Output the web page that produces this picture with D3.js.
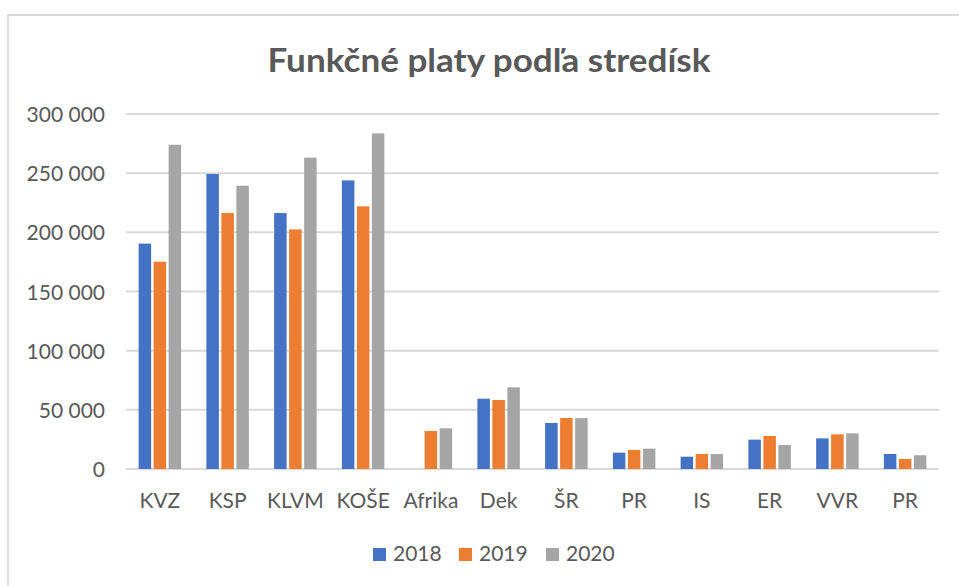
<!DOCTYPE html>
<html>
<head>
<meta charset="utf-8">
<script src="https://cdn.jsdelivr.net/npm/d3@7"></script>
<style>
    html, body { margin: 0; padding: 0; background: #fff; }
    svg { display: block; font-family: Lato, "Open Sans", sans-serif; }
</style>
</head>
<body>
<svg id="chart" width="959" height="586"></svg>
<script>
// data
let categories = ['KVZ', 'KSP', 'KLVM', 'KOŠE', 'Afrika', 'Dek', 'ŠR', 'PR', 'IS', 'ER', 'VVR', 'PR'];
let years = ['2018', '2019', '2020'];
let values2018 = [190500, 249300, 216300, 243900, 0, 59400, 38900, 13800, 10400, 24800, 25900, 12700];
let values2019 = [175200, 216300, 202500, 222000, 32100, 58300, 43100, 16100, 12700, 27900, 29300, 8500];
let values2020 = [274000, 239400, 263100, 283600, 34400, 69000, 43000, 17200, 12700, 20300, 30100, 11600];
let yTicks = [0, 50000, 100000, 150000, 200000, 250000, 300000];
let colors = ['#4472C4', '#ED7D31', '#A5A5A5'];

let series = [values2018, values2019, values2020];
let textColor = '#595959';
let gridColor = '#d9d9d9';

let svg = d3.select('#chart');

// outer frame of the chart area (runs off the bottom / right of the picture)
svg.append('rect')
    .attr('x', 8)
    .attr('y', 15)
    .attr('width', 1000)
    .attr('height', 1000)
    .attr('fill', 'none')
    .attr('stroke', gridColor)
    .attr('stroke-width', 2);

svg.append('text')
    .attr('x', 489)
    .attr('y', 72)
    .attr('text-anchor', 'middle')
    .attr('font-size', 33)
    .attr('font-weight', 'bold')
    .attr('fill', textColor)
    .attr('textLength', 443)
    .attr('lengthAdjust', 'spacingAndGlyphs')
    .text('Funkčné platy podľa stredísk');

let x = d3.scaleBand()
    .domain(d3.range(categories.length))
    .range([126, 939]);

let groupWidth = 45;
let xInner = d3.scaleBand()
    .domain(d3.range(years.length))
    .range([0, groupWidth]);

let y = d3.scaleLinear()
    .domain([0, 300000])
    .range([469, 114]);

let fmt = v => d3.format(',')(v).replace(/,/g, ' ');

// gridlines
svg.append('g')
    .selectAll('line')
    .data(yTicks)
    .join('line')
    .attr('x1', 126)
    .attr('x2', 939)
    .attr('y1', d => y(d))
    .attr('y2', d => y(d))
    .attr('stroke', gridColor)
    .attr('stroke-width', 2);

// y axis labels
let yAxis = svg.append('g')
    .attr('transform', 'translate(105,0)')
    .call(d3.axisLeft(y).tickValues(yTicks).tickFormat(fmt).tickSize(0).tickPadding(0));
yAxis.select('.domain').remove();
yAxis.selectAll('text')
    .attr('font-family', 'Lato, "Open Sans", sans-serif')
    .attr('font-size', 21)
    .attr('fill', textColor)
    .attr('dy', '0.36em');

// bars
let groups = svg.append('g')
    .selectAll('g')
    .data(categories.map((c, i) => i))
    .join('g')
    .attr('transform', i => `translate(${x(i) + (x.bandwidth() - groupWidth) / 2},0)`);

groups.selectAll('rect')
    .data(i => series.map((s, k) => ({ k: k, v: s[i] })))
    .join('rect')
    .filter(d => d.v > 0)
    .attr('x', d => xInner(d.k) + 1.25)
    .attr('y', d => y(d.v))
    .attr('width', xInner.bandwidth() - 2.5)
    .attr('height', d => y(0) - y(d.v))
    .attr('fill', d => colors[d.k]);

// x axis labels
let xAxis = svg.append('g')
    .attr('transform', 'translate(0,469)')
    .call(d3.axisBottom(x).tickFormat(i => categories[i]).tickSize(0).tickPadding(0));
xAxis.select('.domain').remove();
xAxis.selectAll('text')
    .attr('font-family', 'Lato, "Open Sans", sans-serif')
    .attr('font-size', 21)
    .attr('fill', textColor)
    .attr('dy', null)
    .attr('y', 39);

// legend
let legendX = [373, 459, 546];
let legend = svg.append('g')
    .selectAll('g')
    .data(years)
    .join('g')
    .attr('transform', (d, i) => `translate(${legendX[i]},548)`);

legend.append('rect')
    .attr('width', 13)
    .attr('height', 13)
    .attr('fill', (d, i) => colors[i]);

legend.append('text')
    .attr('x', 20)
    .attr('y', 13)
    .attr('font-size', 21)
    .attr('fill', textColor)
    .text(d => d);
</script>
</body>
</html>
